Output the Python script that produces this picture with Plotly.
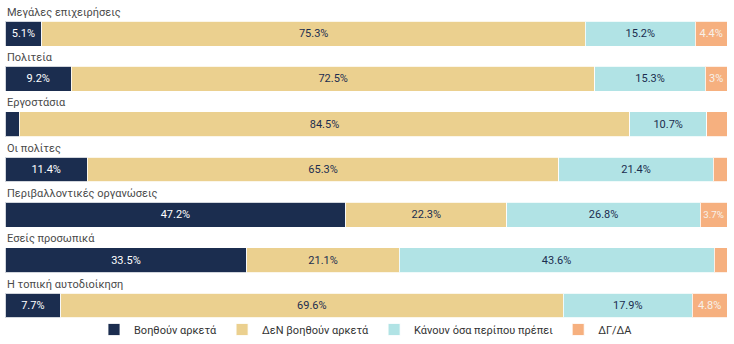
import plotly.graph_objects as go

categories = ["Μεγάλες επιχειρήσεις", "Πολιτεία", "Εργοστάσια", "Οι πολίτες",
              "Περιβαλλοντικές οργανώσεις", "Εσείς προσωπικά", "Η τοπική αυτοδιοίκηση"]
series_names = ["Βοηθούν αρκετά", "ΔεΝ βοηθούν αρκετά", "Κάνουν όσα περίπου πρέπει", "ΔΓ/ΔΑ"]
help_enough = [5.1, 9.2, 2.0, 11.4, 47.2, 33.5, 7.7]
not_enough = [75.3, 72.5, 84.5, 65.3, 22.3, 21.1, 69.6]
about_right = [15.2, 15.3, 10.7, 21.4, 26.8, 43.6, 17.9]
dk_na = [4.4, 3.0, 2.8, 1.9, 3.7, 1.8, 4.8]

colors = ["#1b2d4f", "#ebd08f", "#b1e3e5", "#f6b07f"]
text_colors = ["#ffffff", "#1b2d4f", "#1b2d4f", "#f7f1ea"]
series = [help_enough, not_enough, about_right, dk_na]

ypos = list(range(len(categories)))

def fmt(v):
    if v < 2.9:
        return ""
    s = f"{v:.1f}"
    if s.endswith(".0"):
        s = s[:-2]
    return s + "%"

fig = go.Figure()
for name, vals, c, tc in zip(series_names, series, colors, text_colors):
    fig.add_trace(go.Bar(
        y=ypos, x=vals, name=name, orientation="h",
        marker=dict(color=c, line=dict(color="rgba(255,255,255,0.8)", width=1)),
        text=[fmt(v) for v in vals], textposition="inside",
        insidetextanchor="middle", textangle=0,
        textfont=dict(color=tc, size=11, family="Roboto"),
        width=0.55, hoverinfo="skip",
    ))

for i, cat in enumerate(categories):
    fig.add_annotation(x=0, xref="paper", y=i - 0.47, yref="y", text=cat,
                       showarrow=False, xanchor="left", yanchor="middle",
                       font=dict(size=11, color="#4a4a4a", family="Roboto"))

fig.update_layout(
    barmode="stack", width=734, height=344,
    margin=dict(l=5, r=7, t=0, b=0),
    paper_bgcolor="white", plot_bgcolor="white",
    xaxis=dict(range=[0, 100], visible=False, fixedrange=True),
    yaxis=dict(range=[6.849, -0.74], visible=False, fixedrange=True),
    showlegend=True,
    legend=dict(orientation="h", x=0.5, xanchor="center", y=0.042, yanchor="middle",
                font=dict(size=11, color="#333333", family="Roboto"),
                traceorder="normal", itemwidth=30, bgcolor="rgba(0,0,0,0)"),
    font=dict(family="Roboto"),
)

fig.write_html("out.html")
